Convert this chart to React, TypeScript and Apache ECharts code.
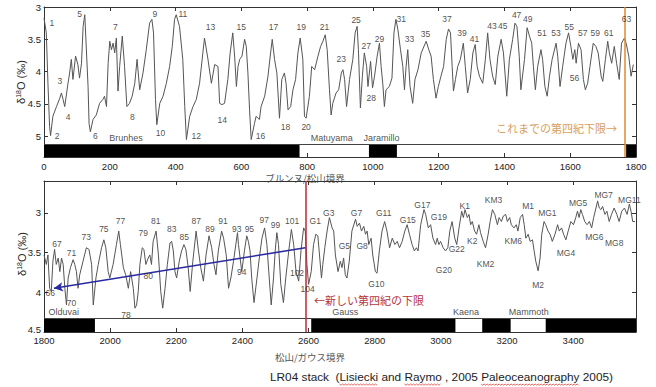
import React, { useEffect, useRef } from 'react';
import * as echarts from 'echarts';

// LR04 benthic δ18O stack: [age ka, δ18O ‰]
const topCurve: [number, number][] = [
  [0, 3.17], [7, 3.40], [12, 4.18], [17, 4.85], [20, 4.99], [27, 4.69], [38, 4.54], [48, 4.41], [53, 4.33], [58, 4.43],
  [63, 4.54], [73, 4.18], [78, 4.02], [83, 3.81], [88, 4.12], [96, 3.76], [103, 3.89], [108, 4.10], [114, 3.87], [119, 3.30],
  [124, 3.12], [129, 3.68], [134, 4.23], [137, 4.80], [141, 4.93], [149, 4.74], [159, 4.67], [169, 4.49], [179, 4.43], [184, 4.38],
  [190, 4.54], [195, 3.87], [200, 3.53], [205, 3.66], [210, 3.56], [215, 3.71], [220, 3.48], [225, 4.30], [230, 3.92], [238, 3.45],
  [245, 3.92], [252, 4.54], [260, 4.49], [268, 4.38], [276, 4.18], [283, 3.81], [291, 4.28], [301, 4.02], [311, 3.66], [321, 3.25],
  [328, 3.19], [333, 3.40], [339, 4.43], [343, 4.82], [352, 4.49], [362, 4.38], [372, 4.18], [382, 3.92], [390, 3.61], [397, 3.19],
  [402, 3.12], [412, 3.30], [422, 3.81], [428, 4.54], [433, 5.05], [443, 4.69], [453, 4.54], [463, 4.43], [473, 4.18], [483, 3.71],
  [488, 3.48], [498, 3.79], [509, 4.18], [519, 3.89], [529, 3.92], [534, 4.49], [541, 4.51], [549, 4.49], [559, 4.12], [566, 3.71],
  [574, 3.40], [580, 3.79], [585, 4.23], [590, 3.92], [595, 3.81], [602, 3.76], [610, 3.50], [615, 3.61], [620, 4.02], [625, 4.59],
  [630, 5.05], [640, 4.80], [645, 4.69], [655, 4.74], [660, 4.54], [671, 4.38], [681, 4.07], [689, 3.71], [694, 3.50], [701, 3.81],
  [708, 4.02], [716, 4.72], [723, 4.12], [731, 4.02], [736, 4.18], [742, 4.59], [750, 4.54], [757, 4.28], [765, 4.12], [772, 3.71],
  [779, 3.48], [787, 3.81], [792, 4.69], [797, 4.72], [807, 4.38], [814, 3.92], [823, 3.97], [833, 3.76], [841, 3.61], [848, 3.53],
  [855, 3.43], [861, 3.66], [868, 4.28], [873, 4.67], [878, 4.49], [888, 4.33], [896, 4.28], [904, 4.02], [909, 3.97], [914, 4.12],
  [920, 4.54], [929, 4.12], [939, 3.81], [946, 3.40], [952, 3.30], [956, 3.66], [962, 4.56], [968, 4.07], [974, 3.71], [981, 3.92],
  [985, 4.23], [993, 3.84], [999, 4.25], [1005, 4.07], [1013, 3.76], [1020, 3.56], [1025, 3.92], [1030, 4.18], [1035, 4.54], [1040, 4.28],
  [1050, 4.23], [1058, 4.10], [1064, 3.40], [1070, 3.19], [1076, 3.35], [1084, 3.66], [1091, 3.92], [1096, 4.28], [1101, 3.92], [1106, 3.66],
  [1113, 4.23], [1121, 4.49], [1128, 4.12], [1137, 3.97], [1147, 3.71], [1162, 3.53], [1170, 3.66], [1177, 3.76], [1184, 4.12], [1192, 4.41],
  [1199, 4.23], [1207, 4.07], [1215, 3.92], [1223, 3.50], [1230, 3.34], [1236, 3.40], [1241, 3.92], [1245, 4.30], [1251, 4.12], [1258, 3.92],
  [1266, 3.81], [1275, 3.56], [1281, 3.92], [1288, 4.33], [1296, 4.12], [1304, 3.71], [1311, 3.58], [1317, 3.92], [1324, 4.07], [1334, 4.18],
  [1342, 3.81], [1349, 3.40], [1356, 3.81], [1364, 4.07], [1372, 4.20], [1380, 3.76], [1390, 3.50], [1397, 3.71], [1407, 4.38], [1415, 3.81],
  [1425, 3.50], [1432, 3.25], [1438, 3.30], [1445, 3.76], [1450, 4.28], [1461, 3.81], [1469, 3.32], [1476, 3.45], [1483, 3.56], [1488, 3.92],
  [1494, 4.28], [1501, 3.92], [1511, 3.66], [1516, 3.81], [1523, 4.23], [1530, 4.38], [1537, 4.07], [1545, 3.81], [1557, 3.56], [1562, 3.76],
  [1569, 4.23], [1577, 3.92], [1587, 3.56], [1595, 3.40], [1602, 3.61], [1608, 3.81], [1614, 3.66], [1618, 3.87], [1625, 3.56], [1633, 3.66],
  [1640, 4.12], [1646, 4.28], [1653, 4.18], [1660, 3.92], [1670, 3.56], [1678, 3.61], [1685, 3.71], [1694, 4.07], [1699, 4.15], [1707, 3.81],
  [1714, 3.53], [1719, 3.71], [1726, 3.87], [1734, 3.61], [1741, 3.87], [1749, 4.12], [1756, 3.56], [1765, 3.48], [1770, 3.56], [1778, 3.76],
  [1785, 4.07], [1792, 3.89],
];

const bottomCurve: [number, number][] = [
  [1800, 3.53], [1807, 3.65], [1812, 3.53], [1817, 3.95], [1822, 3.99], [1827, 3.61], [1832, 3.46], [1837, 3.65], [1843, 3.57], [1848, 3.74],
  [1853, 3.57], [1858, 3.65], [1863, 3.95], [1868, 4.16], [1873, 3.82], [1880, 3.69], [1888, 3.59], [1893, 3.65], [1898, 3.74], [1903, 3.95],
  [1908, 3.78], [1918, 3.61], [1928, 3.44], [1936, 3.46], [1944, 3.65], [1949, 4.16], [1957, 3.82], [1964, 3.65], [1974, 3.44], [1981, 3.34],
  [1987, 3.44], [1994, 3.74], [1999, 3.82], [2009, 3.65], [2019, 3.40], [2026, 3.23], [2031, 3.40], [2040, 3.69], [2047, 3.78], [2055, 3.95],
  [2062, 3.74], [2070, 3.95], [2075, 4.20], [2080, 4.16], [2085, 3.99], [2090, 3.65], [2097, 3.44], [2102, 3.46], [2108, 3.65], [2115, 3.57],
  [2120, 3.53], [2125, 3.65], [2130, 3.36], [2139, 3.23], [2146, 3.53], [2153, 3.99], [2159, 4.20], [2166, 3.95], [2173, 3.65], [2181, 3.38],
  [2186, 3.36], [2191, 3.48], [2196, 3.74], [2201, 3.82], [2209, 3.61], [2216, 3.48], [2223, 3.40], [2229, 3.46], [2236, 3.69], [2242, 3.99],
  [2250, 3.61], [2260, 3.23], [2267, 3.48], [2274, 3.69], [2282, 3.86], [2290, 3.53], [2299, 3.29], [2307, 3.44], [2314, 3.65], [2320, 3.78],
  [2327, 3.48], [2337, 3.23], [2343, 3.32], [2351, 3.53], [2358, 3.95], [2365, 3.82], [2373, 3.61], [2385, 3.25], [2388, 3.40], [2393, 3.57],
  [2398, 3.74], [2406, 3.48], [2413, 3.29], [2418, 3.36], [2423, 3.48], [2428, 3.82], [2435, 4.13], [2444, 3.82], [2451, 3.57], [2459, 3.32],
  [2467, 3.19], [2474, 3.40], [2481, 3.82], [2487, 4.16], [2494, 3.82], [2499, 3.48], [2504, 3.25], [2509, 3.40], [2516, 3.90], [2524, 4.13],
  [2531, 3.82], [2540, 3.48], [2548, 3.21], [2555, 3.40], [2562, 3.74], [2570, 3.86], [2577, 3.48], [2585, 3.19], [2590, 3.23], [2595, 3.65],
  [2600, 3.90], [2608, 3.74], [2615, 3.40], [2622, 3.27], [2628, 3.29], [2632, 3.48], [2639, 3.82], [2643, 3.65], [2649, 3.44], [2656, 3.23],
  [2663, 3.06], [2671, 3.19], [2676, 3.23], [2681, 3.53], [2689, 3.74], [2696, 3.61], [2701, 3.69], [2706, 3.57], [2711, 3.78], [2716, 3.82],
  [2723, 3.61], [2731, 3.23], [2742, 3.08], [2747, 3.17], [2754, 3.13], [2760, 3.23], [2767, 3.17], [2772, 3.27], [2777, 3.23], [2782, 3.40],
  [2789, 3.32], [2794, 3.53], [2802, 3.74], [2807, 3.76], [2814, 3.48], [2822, 3.23], [2830, 3.11], [2837, 3.23], [2845, 3.44], [2853, 3.32],
  [2861, 3.40], [2868, 3.36], [2875, 3.44], [2883, 3.36], [2891, 3.23], [2898, 3.15], [2905, 3.27], [2913, 3.40], [2920, 3.48], [2926, 3.44],
  [2931, 3.48], [2939, 3.15], [2949, 2.96], [2954, 3.02], [2962, 3.19], [2969, 3.15], [2976, 3.32], [2984, 3.40], [2989, 3.32], [2994, 3.40],
  [2999, 3.36], [3007, 3.44], [3014, 3.48], [3021, 3.44], [3027, 3.23], [3034, 3.11], [3042, 3.32], [3048, 3.40], [3055, 3.19], [3063, 2.98],
  [3068, 3.06], [3073, 2.96], [3080, 3.06], [3085, 3.02], [3090, 3.15], [3095, 3.11], [3102, 3.23], [3108, 3.27], [3115, 3.15], [3120, 3.25],
  [3128, 3.36], [3135, 3.44], [3143, 3.27], [3149, 3.11], [3156, 2.96], [3163, 3.02], [3171, 3.15], [3176, 3.06], [3183, 3.11], [3189, 3.04],
  [3196, 3.02], [3201, 3.11], [3208, 3.06], [3213, 3.15], [3221, 3.19], [3228, 3.15], [3233, 3.23], [3240, 3.06], [3247, 3.02], [3252, 3.15],
  [3257, 3.32], [3264, 3.27], [3270, 3.36], [3277, 3.34], [3282, 3.48], [3287, 3.61], [3294, 3.73], [3300, 3.57], [3305, 3.27], [3312, 3.11],
  [3317, 3.15], [3324, 3.23], [3330, 3.27], [3337, 3.36], [3345, 3.27], [3353, 3.15], [3358, 3.23], [3365, 3.19], [3371, 3.27], [3378, 3.34],
  [3385, 3.23], [3393, 3.11], [3401, 3.15], [3408, 3.06], [3413, 2.98], [3418, 3.06], [3423, 2.96], [3428, 3.02], [3435, 3.11], [3442, 3.15],
  [3449, 3.11], [3456, 3.19], [3462, 3.06], [3469, 2.94], [3474, 2.85], [3479, 2.94], [3484, 2.96], [3489, 2.92], [3496, 3.02], [3502, 2.98],
  [3509, 3.11], [3516, 3.02], [3524, 2.94], [3532, 3.02], [3539, 3.11], [3547, 2.98], [3555, 2.94], [3563, 3.02], [3570, 2.89], [3575, 2.98],
  [3580, 3.11], [3587, 3.11],
];

// Marine isotope stage labels: [age, δ18O, text]
const topStageLabels: [number, number, string][] = [
  [24, 3.245, '1'], [40, 5.0, '2'], [48, 4.15, '3'], [73, 4.70, '4'], [108, 3.105, '5'], [156, 5.0, '6'], [217, 3.31, '7'],
  [269, 4.70, '8'], [337, 3.105, '9'], [354, 4.95, '10'], [422, 3.105, '11'], [463, 5.0, '12'], [506, 3.31, '13'], [542, 4.74, '14'],
  [600, 3.31, '15'], [658, 5.0, '16'], [698, 3.31, '17'], [734, 4.86, '18'], [782, 3.31, '19'], [797, 4.86, '20'], [853, 3.31, '21'],
  [904, 3.80, '23'], [949, 3.205, '25'], [980, 3.61, '27'], [995, 4.41, '28'], [1020, 3.49, '29'], [1086, 3.19, '31'], [1111, 3.49, '33'],
  [1160, 3.41, '35'], [1225, 3.19, '37'], [1271, 3.40, '39'], [1309, 3.49, '41'], [1362, 3.30, '43'], [1395, 3.30, '45'], [1437, 3.13, '47'],
  [1471, 3.19, '49'], [1514, 3.40, '51'], [1557, 3.40, '53'], [1597, 3.31, '55'], [1613, 4.10, '56'], [1638, 3.40, '57'], [1676, 3.40, '59'],
  [1717, 3.40, '61'], [1771, 3.19, '63'],
];

const bottomStageLabels: [number, number, string][] = [
  [1839, 3.395, '67'], [1883, 3.50, '71'], [1928, 3.30, '73'], [1981, 3.20, '75'], [2031, 3.10, '77'], [2100, 3.26, '79'], [2138, 3.10, '81'],
  [2186, 3.20, '83'], [2224, 3.30, '85'], [2260, 3.10, '87'], [2302, 3.20, '89'], [2341, 3.10, '91'], [2383, 3.20, '93'], [2421, 3.20, '95'],
  [2466, 3.09, '97'], [2500, 3.15, '99'], [2550, 3.10, '101'], [2565, 3.76, '102'], [2597, 3.955, '104'], [1819, 4.01, '66'], [1883, 4.14, '70'],
  [2048, 4.28, '78'], [2115, 3.80, '80'], [2398, 3.75, '94'], [2620, 3.10, 'G1'], [2661, 3.00, 'G3'], [2745, 3.00, 'G7'], [2827, 3.00, 'G11'],
  [2900, 3.09, 'G15'], [2944, 2.90, 'G17'], [2994, 3.05, 'G19'], [2708, 3.42, 'G5'], [2762, 3.42, 'G8'], [2805, 3.89, 'G10'], [3009, 3.72, 'G20'],
  [3048, 3.45, 'G22'], [3095, 3.35, 'K2'], [3072, 2.91, 'K1'], [3135, 3.65, 'KM2'], [3159, 2.84, 'KM3'], [3264, 2.91, 'M1'], [3322, 3.00, 'MG1'],
  [3219, 3.35, 'KM6'], [3294, 3.91, 'M2'], [3378, 3.50, 'MG4'], [3415, 2.88, 'MG5'], [3492, 2.78, 'MG7'], [3570, 2.84, 'MG11'], [3464, 3.30, 'MG6'],
  [3524, 3.38, 'MG8'],
];

// Magnetic chron names and normal-polarity intervals (black)
const topChronNames: [number, number, string][] = [[249, 5.02, 'Brunhes'], [875, 5.02, 'Matuyama'], [1026, 5.02, 'Jaramillo']];
const bottomChronNames: [number, number, string][] = [[1860, 4.25, 'Olduvai'], [2711, 4.25, 'Gauss'], [3076, 4.25, 'Kaena'], [3266, 4.25, 'Mammoth']];
const topNormalChrons: [number, number][] = [[0, 777], [988, 1073], [1770, 1800]];
const bottomNormalChrons: [number, number][] = [[1800, 1954], [2608, 3044], [3125, 3211], [3317, 3590]];

const topXTicks = [0, 200, 400, 600, 800, 1000, 1200, 1400, 1600, 1800];
const bottomXTicks = [1800, 2000, 2200, 2400, 2600, 2800, 3000, 3200, 3400];
const topYTicks = [3, 3.5, 4, 4.5, 5];
const bottomYTicks = [3, 3.5, 4, 4.5];

const oldQuaternaryBase = 1767;
const newQuaternaryBase = 2590;
const blueArrow: [number, number][] = [[2590, 3.44], [1830, 3.95]];

const TOP_Y = { min: 3, max: 5.32, barTop: 5.12 };
const BOT_Y = { min: 2.6, max: 4.5, barTop: 4.325 };

const FONT = '"Liberation Sans", Arial, sans-serif';
const JFONT = '"Noto Sans CJK JP", sans-serif';

const CAPTION = 'LR04 stack  (Lisiecki and Raymo , 2005 Paleoceanography 2005)';
const CAPTION_X = 270;
const CAPTION_Y = 377;
const CAPTION_SIZE = 11.8;
// words that carry a spell-check squiggle in the picture
const squiggleWords = ['Lisiecki', 'Raymo', 'Paleoceanography'];

function xAxes(gridIndex: number, min: number, max: number, ticks: number[]) {
  const common = {
    gridIndex, type: 'value' as const, min, max,
    axisLine: { show: true, onZero: false, lineStyle: { color: '#333', width: 1 } },
    axisTick: { show: true, inside: true, length: 4, customValues: ticks, lineStyle: { color: '#333' } },
    splitLine: { show: false },
  };
  return [
    { ...common, position: 'bottom' as const,
      axisLabel: { show: true, customValues: ticks, formatter: (v: number) => String(v), fontSize: 9.5, color: '#222', fontFamily: FONT, margin: gridIndex === 0 ? 4 : 3 } },
    { ...common, position: 'top' as const, axisLabel: { show: false } },
  ];
}

function yAxes(gridIndex: number, min: number, max: number, ticks: number[], liftLast: boolean) {
  const common = {
    gridIndex, type: 'value' as const, min, max, inverse: true,
    axisLine: { show: true, onZero: false, lineStyle: { color: '#333', width: 1 } },
    axisTick: { show: true, inside: true, length: 4, customValues: ticks, lineStyle: { color: '#333' } },
    splitLine: { show: false },
  };
  return [
    { ...common, position: 'left' as const,
      axisLabel: {
        show: true, customValues: ticks, fontSize: 9.5, color: '#222', fontFamily: FONT, margin: 3,
        formatter: (v: number) => (liftLast && v === ticks[ticks.length - 1] ? '{up|' + v + '}' : String(v)),
        rich: { up: { fontSize: 9.5, color: '#222', fontFamily: FONT, padding: [0, 0, 6, 0] } },
      } },
    { ...common, position: 'right' as const, axisLabel: { show: false } },
  ];
}

function labelSeries(xi: number, yi: number, data: [number, number, string][], size: number) {
  return {
    type: 'scatter', xAxisIndex: xi, yAxisIndex: yi, data, symbolSize: 1, silent: true, z: 5,
    itemStyle: { color: 'rgba(255,255,255,0)' },
    label: {
      show: true, position: 'inside', formatter: (p: any) => p.value[2],
      fontSize: size, color: '#222', fontFamily: FONT, textBorderWidth: 0, textBorderColor: 'transparent',
    },
  };
}

function chronAreas(list: [number, number][], y0: number, y1: number) {
  return list.map(([a, b]) => [{ xAxis: a, yAxis: y0 }, { xAxis: b, yAxis: y1 }]);
}

const yNameStyle = {
  text: '{a|δ}{s|18}{a|O (‰)}', align: 'center', verticalAlign: 'middle',
  rich: {
    a: { fontSize: 11, fontFamily: FONT, fill: '#222' },
    s: { fontSize: 7, fontFamily: FONT, fill: '#222', verticalAlign: 'top', padding: [0, 0, 5, 0] },
  },
};

function squiggles(): any[] {
  const font = CAPTION_SIZE + 'px ' + FONT;
  const out: any[] = [];
  squiggleWords.forEach((w) => {
    const idx = CAPTION.indexOf(w);
    const x0 = CAPTION_X + echarts.format.getTextRect
      ? 0 : 0;
    const start = CAPTION_X + measure(CAPTION.slice(0, idx), font);
    const end = start + measure(w, font);
    const pts: number[][] = [];
    let k = 0;
    for (let x = start; x <= end; x += 1.5) {
      pts.push([x, CAPTION_Y + 7 + (k % 2 === 0 ? 0 : 1.2)]);
      k++;
    }
    out.push({ type: 'polyline', silent: true, shape: { points: pts }, style: { stroke: '#e0403a', lineWidth: 0.8, fill: null } });
    void x0;
  });
  return out;
}

let measureCtx: CanvasRenderingContext2D | null = null;
function measure(text: string, font: string): number {
  if (!measureCtx) measureCtx = document.createElement('canvas').getContext('2d');
  if (!measureCtx) return text.length * 6;
  measureCtx.font = font;
  return measureCtx.measureText(text).width;
}

export default function App() {
  const ref = useRef<HTMLDivElement>(null);
  useEffect(() => {
    if (!ref.current) return;
    const chart = echarts.init(ref.current, null, { renderer: 'svg' });
    const option: any = {
      animation: false,
      backgroundColor: '#fff',
      grid: [
        { left: 44, top: 7, width: 592, height: 150 },
        { left: 44, top: 181, width: 592, height: 151 },
      ],
      xAxis: [...xAxes(0, 0, 1800, topXTicks), ...xAxes(1, 1800, 3590, bottomXTicks)],
      yAxis: [...yAxes(0, TOP_Y.min, TOP_Y.max, topYTicks, false), ...yAxes(1, BOT_Y.min, BOT_Y.max, bottomYTicks, true)],
      series: [
        {
          type: 'line', xAxisIndex: 0, yAxisIndex: 0, data: topCurve, showSymbol: false, symbol: 'none',
          lineStyle: { color: '#555', width: 1 }, z: 3,
          markArea: { silent: true, itemStyle: { color: '#000' }, data: chronAreas(topNormalChrons, TOP_Y.barTop, TOP_Y.max) },
          markLine: {
            silent: true, symbol: ['none', 'none'], label: { show: false },
            data: [
              { yAxis: TOP_Y.barTop, lineStyle: { color: '#444', width: 1, type: 'solid' } },
              { xAxis: oldQuaternaryBase, lineStyle: { color: '#e08a2c', width: 1.5, type: 'solid' } },
            ],
          },
        },
        {
          type: 'line', xAxisIndex: 2, yAxisIndex: 2, data: bottomCurve, showSymbol: false, symbol: 'none',
          lineStyle: { color: '#555', width: 1 }, z: 3,
          markArea: { silent: true, itemStyle: { color: '#000' }, data: chronAreas(bottomNormalChrons, BOT_Y.barTop, BOT_Y.max) },
          markLine: {
            silent: true, symbol: ['none', 'none'], label: { show: false },
            data: [
              { yAxis: BOT_Y.barTop, lineStyle: { color: '#444', width: 1, type: 'solid' } },
              { xAxis: newQuaternaryBase, lineStyle: { color: '#c0282e', width: 1.5, type: 'solid' } },
            ],
          },
        },
        {
          type: 'line', xAxisIndex: 2, yAxisIndex: 2, data: [], z: 6,
          markLine: {
            silent: true, symbol: ['none', 'arrow'], symbolSize: [7, 9], label: { show: false },
            lineStyle: { color: '#2a2aa0', width: 1.6, type: 'solid' },
            data: [[{ coord: blueArrow[0] }, { coord: blueArrow[1] }]],
          },
        },
        labelSeries(0, 0, topStageLabels, 8.5),
        labelSeries(2, 2, bottomStageLabels, 8.5),
        labelSeries(0, 0, topChronNames, 9),
        labelSeries(2, 2, bottomChronNames, 9),
      ],
      graphic: [
        { type: 'text', x: 21, y: 82, rotation: Math.PI / 2, style: yNameStyle },
        { type: 'text', x: 22, y: 254, rotation: Math.PI / 2, style: yNameStyle },
        { type: 'text', x: 305, y: 177.5, style: { text: 'ブルンヌ/松山境界', align: 'center', verticalAlign: 'middle', fontSize: 9.5, fontFamily: JFONT, fill: '#555' } },
        { type: 'text', x: 310, y: 357, style: { text: '松山/ガウス境界', align: 'center', verticalAlign: 'middle', fontSize: 9.5, fontFamily: JFONT, fill: '#555' } },
        { type: 'text', x: 617, y: 128, style: { text: 'これまでの第四紀下限→', align: 'right', verticalAlign: 'middle', fontSize: 11, fontFamily: JFONT, fill: '#d9a060' } },
        { type: 'text', x: 314, y: 299.5, style: { text: '←新しい第四紀の下限', align: 'left', verticalAlign: 'middle', fontSize: 11, fontFamily: JFONT, fill: '#b8343e' } },
        { type: 'text', x: CAPTION_X, y: CAPTION_Y, style: { text: CAPTION, align: 'left', verticalAlign: 'middle', fontSize: CAPTION_SIZE, fontFamily: FONT, fill: '#222' } },
        ...squiggles(),
      ],
    };
    chart.setOption(option);
    return () => chart.dispose();
  }, []);
  return <div ref={ref} style={{ position: 'fixed', left: 0, top: 0, width: 656, height: 387 }} />;
}
